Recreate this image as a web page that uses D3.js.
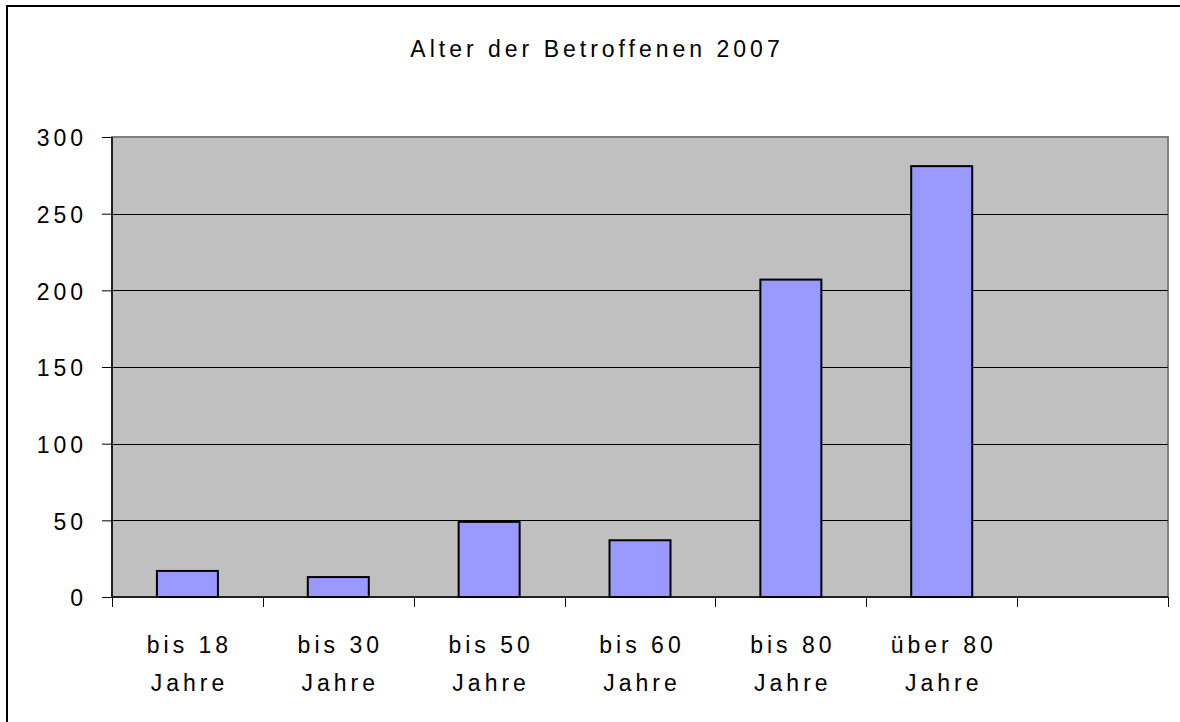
<!DOCTYPE html>
<html>
<head>
<meta charset="utf-8">
<script src="https://cdn.jsdelivr.net/npm/d3@7"></script>
<style>
  body { margin: 0; background: #fff; }
  svg { display: block; font-family: "Liberation Sans", Arial, sans-serif; }
</style>
</head>
<body>
<svg id="svg" width="1180" height="722"></svg>
<script>
var categories = [["bis 18", "Jahre"], ["bis 30", "Jahre"], ["bis 50", "Jahre"], ["bis 60", "Jahre"], ["bis 80", "Jahre"], ["über 80", "Jahre"], ["", ""]];
var values = [17, 13, 49, 37, 207, 281, null];
var yTicks = [0, 50, 100, 150, 200, 250, 300];
var title = "Alter der Betroffenen 2007";

var margin = { top: 137, right: 12, bottom: 125, left: 112 };
var svg = d3.select('#svg');
var width = 1180, height = 722;
var innerW = width - margin.left - margin.right;
var innerH = height - margin.top - margin.bottom;
var ls = 4; // letter spacing

// outer chart frame (right/bottom edges run off the page)
svg.append('rect')
  .attr('x', 7).attr('y', 6)
  .attr('width', 1200).attr('height', 740)
  .attr('fill', '#fff').attr('stroke', '#000').attr('stroke-width', 2);

svg.append('text')
  .attr('x', 595 + ls / 2).attr('y', 57)
  .attr('text-anchor', 'middle')
  .style('font-size', '23px')
  .style('letter-spacing', ls + 'px')
  .text(title);

var g = svg.append('g').attr('transform', 'translate(' + margin.left + ',' + margin.top + ')');

var x = d3.scaleBand().domain(d3.range(categories.length)).range([0, innerW]).paddingInner(0).paddingOuter(0);
var y = d3.scaleLinear().domain([0, 300]).range([innerH, 0]);

// plot background
g.append('rect')
  .attr('width', innerW).attr('height', innerH)
  .attr('fill', '#c0c0c0')
  .attr('stroke', '#808080').attr('stroke-width', 2);

// gridlines
g.selectAll('line.grid')
  .data(yTicks.filter(function(d) { return d > 0 && d < 300; }))
  .enter().append('line')
  .attr('x1', 0).attr('x2', innerW)
  .attr('y1', function(d) { return Math.round(y(d)) + 0.5; })
  .attr('y2', function(d) { return Math.round(y(d)) + 0.5; })
  .attr('stroke', '#000').attr('stroke-width', 1);

// bars
var bw = 61;
g.selectAll('rect.bar')
  .data(values.map(function(v, i) { return { v: v, i: i }; }).filter(function(d) { return d.v != null; }))
  .enter().append('rect')
  .attr('x', function(d) { return x(d.i) + (x.bandwidth() - bw) / 2; })
  .attr('y', function(d) { return y(d.v); })
  .attr('width', bw)
  .attr('height', function(d) { return innerH - y(d.v); })
  .attr('fill', '#9999ff')
  .attr('stroke', '#000').attr('stroke-width', 2);

// y axis
var yAxis = d3.axisLeft(y).tickValues(yTicks).tickSize(10).tickPadding(15);
var ya = g.append('g').call(yAxis);
ya.select('.domain').attr('stroke', '#000').attr('stroke-width', 1.5).attr('d', 'M0,0V' + innerH);
ya.selectAll('.tick line').attr('stroke', '#000');
ya.selectAll('.tick text')
  .attr('dy', '0.38em')
  .style('font-size', '23px').style('letter-spacing', ls + 'px')
  .attr('fill', '#000').attr('font-family', null);

// x axis: ticks at category boundaries
var bounds = d3.range(categories.length + 1).map(function(i) { return i * x.step(); });
var xa = g.append('g').attr('transform', 'translate(0,' + innerH + ')');
xa.append('line').attr('x1', 0).attr('x2', innerW).attr('y1', 0).attr('y2', 0)
  .attr('stroke', '#000').attr('stroke-width', 1.5);
xa.selectAll('line.tk').data(bounds).enter().append('line')
  .attr('x1', function(d) { return Math.round(d) + 0.5; })
  .attr('x2', function(d) { return Math.round(d) + 0.5; })
  .attr('y1', 0).attr('y2', 10)
  .attr('stroke', '#000');

function cx(d, i) { return x(i) + x.bandwidth() / 2 + ls / 2; }
var labels = xa.selectAll('text.lbl').data(categories).enter().append('text')
  .attr('text-anchor', 'middle')
  .attr('x', cx)
  .style('font-size', '23px').style('letter-spacing', ls + 'px');
labels.append('tspan').attr('x', cx).attr('y', 56).text(function(d) { return d[0]; });
labels.append('tspan').attr('x', cx).attr('y', 93.5).text(function(d) { return d[1]; });
</script>
</body>
</html>
